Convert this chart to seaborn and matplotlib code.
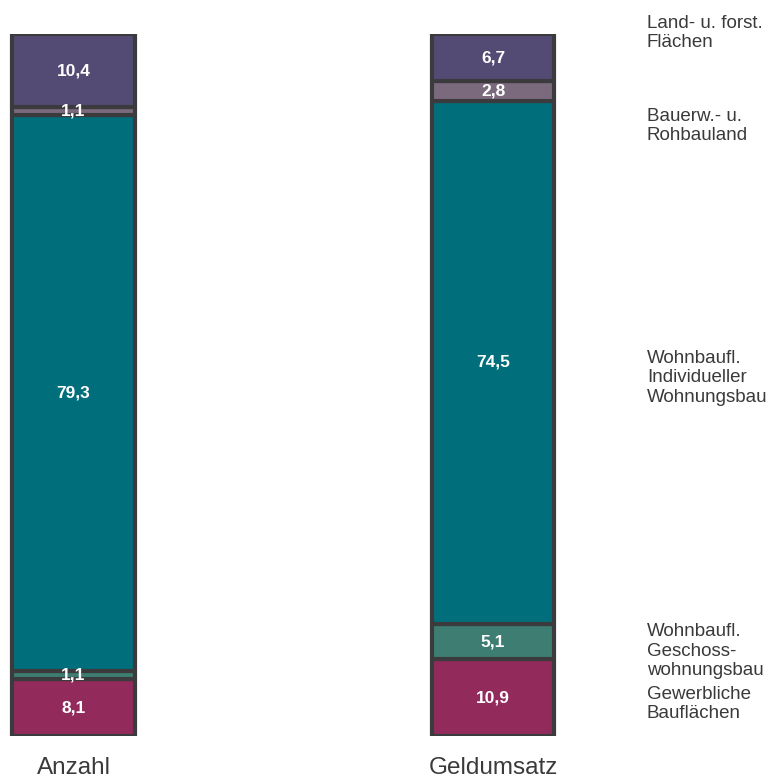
import matplotlib
matplotlib.use("Agg")
import matplotlib.pyplot as plt
import seaborn as sns
import numpy as np
import pandas as pd

sns.set_style("white")
plt.rcParams['font.family'] = ['Liberation Sans', 'DejaVu Sans']

# ---- data ----
categories = ["Anzahl", "Geldumsatz"]
segments = ["Gewerbliche\nBauflächen",
            "Wohnbaufl.\nGeschoss-\nwohnungsbau",
            "Wohnbaufl.\nIndividueller\nWohnungsbau",
            "Bauerw.- u.\nRohbauland",
            "Land- u. forst.\nFlächen"]
anzahl = [8.1, 1.1, 79.3, 1.1, 10.4]
geldumsatz = [10.9, 5.1, 74.5, 2.8, 6.7]
value_labels_anzahl = ["8,1", "1,1", "79,3", "1,1", "10,4"]
value_labels_geld = ["10,9", "5,1", "74,5", "2,8", "6,7"]

colors = ["#922a5c", "#3e7e72", "#006f7b", "#7b6a7e", "#534b74"]
edge = "#3b3a3d"

W, H = 784, 781
fig = plt.figure(figsize=(W / 100, H / 100), dpi=100)
# axes mapping: y=0 at pixel 736, y=100 at pixel 34
ax = fig.add_axes([0, (H - 736) / H, 1, 702 / H])

vals = np.array([anzahl, geldumsatz])  # shape (2, 5)
bottoms = np.zeros(2)
for i, seg in enumerate(segments):
    df = pd.DataFrame({"cat": categories, "val": vals[:, i]})
    sns.barplot(data=df, x="cat", y="val", order=categories, color=colors[i],
                bottom=bottoms.copy(), width=0.293, edgecolor=edge,
                linewidth=3.0, saturation=1, ax=ax, zorder=2)
    for j in range(2):
        lab = (value_labels_anzahl if j == 0 else value_labels_geld)[i]
        ax.text(j, bottoms[j] + vals[j, i] / 2, lab, ha="center", va="center",
                color="white", fontsize=12.5, fontweight="bold", zorder=5)
    bottoms += vals[:, i]

for p in ax.patches:
    p.set_joinstyle("round")

px = 419.5
ax.set_xlim(-73.5 / px, (W - 73.5) / px)
ax.set_ylim(0, 100)
ax.axis("off")

# right-hand segment labels (pixel y centres)
label_y_px = [704, 651, 378, 126, 33]
def ypx(p):
    return (736 - p) / 7.02

for seg, yp in zip(segments, label_y_px):
    ax.text((647 - 73.5) / px, ypx(yp), seg, ha="left", va="center",
            fontsize=13.5, color="#3a3a3a", linespacing=1.18)

for j, c in enumerate(categories):
    ax.text(j, ypx(768), c, ha="center", va="center", fontsize=17.5,
            color="#3a3a3a")

fig.savefig("out.png", dpi=100)
